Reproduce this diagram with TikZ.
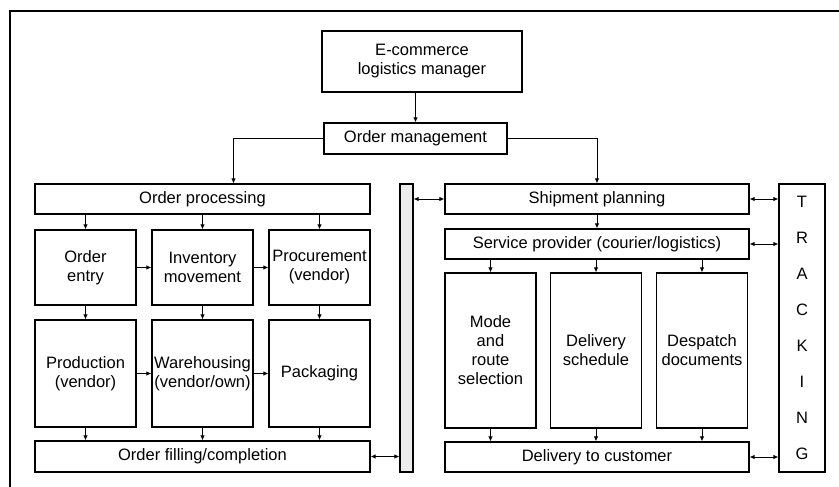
\documentclass[tikz,border=0pt]{standalone}
\usepackage{fontspec}
\setmainfont{Liberation Sans}
\usetikzlibrary{arrows.meta}

\begin{document}
\begin{tikzpicture}[x=1pt,y=-1pt,
  box/.style={draw,line width=1.1pt,inner sep=0pt,align=center,
    font=\fontsize{16.5}{19}\selectfont},
  arr/.style={-{Latex[length=5pt,width=4.5pt]},line width=1pt},
  darr/.style={{Latex[length=5pt,width=4.5pt]}-{Latex[length=5pt,width=4.5pt]},line width=1pt}]
\useasboundingbox (0,0) rectangle (839,487);
\draw[line width=1.4pt] (10,487) -- (10,11) -- (839,11);

\node[box,minimum width=200pt,minimum height=61pt] (ecom) at (422,61.5) {E-commerce\\logistics manager};
\node[box,minimum width=183pt,minimum height=31pt] (ordmgmt) at (415.5,138.5) {Order management};

\node[box,minimum width=335pt,minimum height=30pt] (ordproc) at (202.5,199) {Order processing};
\node[box,minimum width=101pt,minimum height=75pt] (oe) at (85.5,267.5) {Order\\entry};
\node[box,minimum width=101pt,minimum height=75pt] (im) at (202.5,267.5) {Inventory\\movement};
\node[box,minimum width=101pt,minimum height=75pt] (proc) at (319.5,267.5) {Procurement\\(vendor)};
\node[box,minimum width=101pt,minimum height=107pt] (prod) at (85.5,373.5) {Production\\(vendor)};
\node[box,minimum width=101pt,minimum height=107pt] (wh) at (202.5,373.5) {Warehousing\\(vendor/own)};
\node[box,minimum width=101pt,minimum height=107pt] (pack) at (319.5,373.5) {Packaging};
\node[box,minimum width=335pt,minimum height=31pt] (ordfill) at (202.5,456.5) {Order filling/completion};

\node[box,fill=gray!15,minimum width=13pt,minimum height=288pt] (bar) at (406.5,328) {};

\node[box,minimum width=304pt,minimum height=30pt] (ship) at (597,199) {Shipment planning};
\node[box,minimum width=304pt,minimum height=30pt] (serv) at (597,244) {Service provider (courier/logistics)};
\node[box,minimum width=91pt,minimum height=155pt] (mode) at (490.5,350.5) {Mode\\and\\route\\selection};
\node[box,minimum width=91pt,minimum height=155pt] (sched) at (596,350.5) {Delivery\\schedule};
\node[box,minimum width=91pt,minimum height=155pt] (desp) at (702,350.5) {Despatch\\documents};
\node[box,minimum width=304pt,minimum height=30pt] (deliv) at (597,457) {Delivery to customer};

\node[box,minimum width=46pt,minimum height=288pt,font=\fontsize{16.5}{36.1}\selectfont] (track) at (802,328) {T\\R\\A\\C\\K\\I\\N\\G};

\draw[arr] (ordmgmt.north |- ecom.south) -- (ordmgmt);
\draw[arr] (ordmgmt.west) -| ([xshift=31pt]ordproc.north);
\draw[arr] (ordmgmt.east) -| (ship.north);

\foreach \a/\b/\c in {oe/prod/ordfill,im/wh/ordfill,proc/pack/ordfill}{
  \draw[arr] (ordproc.south -| \a) -- (\a);
  \draw[arr] (\a) -- (\b);
  \draw[arr] (\b) -- (\b |- \c.north);
}
\draw[arr] (oe) -- (im);
\draw[arr] (im) -- (proc);
\draw[arr] (prod) -- (wh);
\draw[arr] (wh) -- (pack);

\draw[arr] (ship) -- (serv);
\foreach \a in {mode,sched,desp}{
  \draw[arr] (serv.south -| \a) -- (\a);
  \draw[arr] (\a) -- (\a |- deliv.north);
}

\draw[darr] (ordfill) -- (ordfill -| bar.west);
\draw[darr] (bar.east |- ship) -- (ship);
\draw[darr] (ship) -- (ship -| track.west);
\draw[darr] (serv) -- (serv -| track.west);
\draw[darr] (deliv) -- (deliv -| track.west);
\end{tikzpicture}
\end{document}
